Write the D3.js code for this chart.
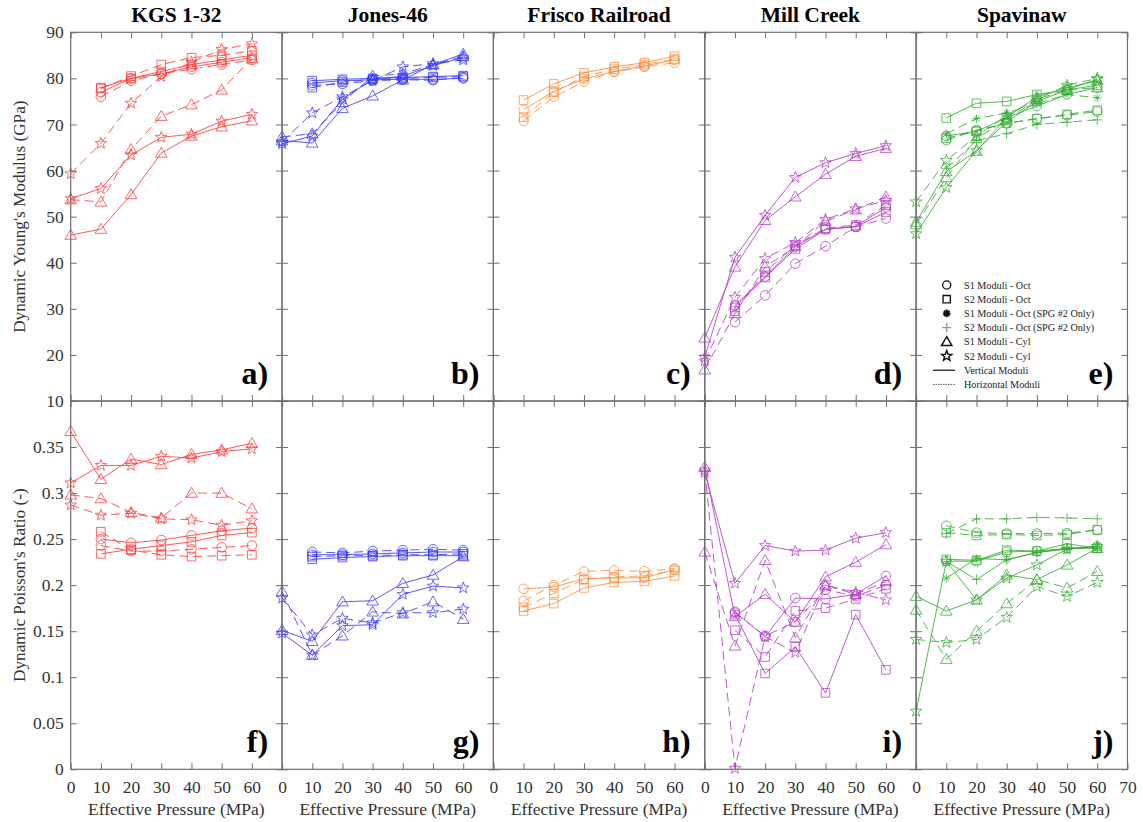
<!DOCTYPE html>
<html><head><meta charset="utf-8">
<script src="https://cdn.jsdelivr.net/npm/d3@7"></script>
<style>
body{margin:0;background:#fff}
svg text{font-family:"Liberation Serif","Times New Roman",serif;}
</style>
</head><body>
<svg id="chart" width="1143" height="822"></svg>
<script>
// ---------- data ----------
const pressure = [0, 10, 20, 30, 40, 50, 60];
const sites = ["KGS 1-32", "Jones-46", "Frisco Railroad", "Mill Creek", "Spavinaw"];
const lettersTop = ["a)", "b)", "c)", "d)", "e)"];
const lettersBottom = ["f)", "g)", "h)", "i)", "j)"];
const youngTicks = [10, 20, 30, 40, 50, 60, 70, 80, 90];
const poissonTicks = [0, 0.05, 0.1, 0.15, 0.2, 0.25, 0.3, 0.35];
const pressureTicks = [0, 10, 20, 30, 40, 50, 60, 70];
const legendLabels = ["S1 Moduli - Oct", "S2 Moduli - Oct", "S1 Moduli - Oct (SPG #2 Only)",
  "S2 Moduli - Oct (SPG #2 Only)", "S1 Moduli - Cyl", "S2 Moduli - Cyl", "Vertical Moduli", "Horizontal Moduli"];
const legendTypes = ["S1 Oct", "S2 Oct", "S1 SPG2", "S2 SPG2", "S1 Cyl", "S2 Cyl", "V", "H"];

// each row: [sample type, orientation (V = vertical, H = horizontal), values at pressure]
const kgsYoung = [
  ["S1 Oct", "V", [null, 77, 80, 81, 82.5, 83.5, 84.5]],
  ["S1 Oct", "H", [null, 76, 79.5, 81, 82, 83, 84]],
  ["S2 Oct", "V", [null, 78, 80, 81.5, 83, 84, 85]],
  ["S2 Oct", "H", [null, 77.8, 80.5, 83, 84.5, 85, 86]],
  ["S1 Cyl", "V", [46, 47.3, 54.8, 63.8, 67.5, 69.5, 70.8]],
  ["S1 Cyl", "H", [53.7, 53.2, 64.6, 71.8, 74.3, 77.5, 84.3]],
  ["S2 Cyl", "V", [53.9, 56.1, 63.4, 67.2, 67.9, 70.7, 72.2]],
  ["S2 Cyl", "H", [59.3, 65.9, 74.6, 80.4, 83.5, 86.3, 87.5]]
];
const jonesYoung = [
  ["S1 Oct", "V", [null, 79, 79.5, 79.7, 79.8, 79.8, 80]],
  ["S1 Oct", "H", [null, 78.5, 78.8, 79.5, 79.7, 79.6, 80.2]],
  ["S2 Oct", "V", [null, 79.5, 79.8, 80, 80.2, 80.4, 80.6]],
  ["S2 Oct", "H", [null, 78, 79.2, 79.8, 80, 80.2, 80.4]],
  ["S1 Cyl", "V", [66.5, 66, 73.5, 76.2, 79.7, 83, 85.3]],
  ["S1 Cyl", "H", [67.3, 68, 74.8, 80.5, 81, 83, 84.8]],
  ["S2 Cyl", "V", [65.8, 67.5, 75.5, 79.8, 80.5, 82.8, 84.5]],
  ["S2 Cyl", "H", [66.2, 72.5, 76, 79.5, 82.5, 83.2, 84]]
];
const friscoYoung = [
  ["S1 Oct", "V", [null, 73.2, 77.2, 79.9, 81.5, 82.7, 84]],
  ["S1 Oct", "H", [null, 70.8, 76, 79.3, 81.4, 82.5, 83.4]],
  ["S2 Oct", "V", [null, 75.3, 78.8, 81.2, 82.5, 83.4, 84.8]],
  ["S2 Oct", "H", [null, 71.6, 77, 80.4, 82, 83, 84.2]]
];
const millYoung = [
  ["S1 Oct", "V", [null, 30.7, 37, 43.5, 47.3, 47.9, 52]],
  ["S1 Oct", "H", [null, 27.1, 32.9, 39.8, 43.6, 47.8, 49.6]],
  ["S2 Oct", "V", [null, 30.3, 36.8, 43, 47.2, 47.8, 51]],
  ["S2 Oct", "H", [null, 29.5, 38, 43.8, 47.5, 48.2, 52.5]],
  ["S1 Cyl", "V", [23.7, 39.1, 49.2, 54.3, 59.2, 63.1, 64.8]],
  ["S1 Cyl", "H", [16.8, 29, 39.1, 43.5, 49, 51.5, 54.3]],
  ["S2 Cyl", "V", [19.5, 41.2, 50.3, 58.5, 61.7, 63.7, 65.4]],
  ["S2 Cyl", "H", [18.7, 32.5, 40.9, 44.4, 49.4, 51.7, 53.5]]
];
const spavYoung = [
  ["S1 Oct", "V", [null, 67.5, 68.5, 71.5, 74, 76.5, 78]],
  ["S1 Oct", "H", [null, 66.6, 68.8, 70.2, 71.3, 72, 72.8]],
  ["S2 Oct", "V", [null, 71.4, 74.6, 75, 76.5, 77.5, 78.5]],
  ["S2 Oct", "H", [null, 67, 68.5, 70.3, 71.2, 72.2, 73.1]],
  ["S1 SPG2", "H", [null, 68, 71.3, 72.5, 74.5, 76.5, 75.8]],
  ["S2 SPG2", "H", [null, 60.5, 66.5, 68, 70, 70.5, 71]],
  ["S1 Cyl", "V", [48.8, 59.8, 64.2, 71.5, 76, 78, 79.5]],
  ["S1 Cyl", "H", [48.3, 58.5, 67, 71, 75.5, 77.5, 78]],
  ["S2 Cyl", "V", [46.3, 56.3, 64.4, 70.5, 75, 77.5, 79.8]],
  ["S2 Cyl", "H", [53.2, 62.2, 67.5, 72, 75.5, 78.5, 80]]
];

const kgsPoisson = [
  ["S1 Oct", "V", [null, 0.250, 0.246, 0.249, 0.254, 0.259, 0.262]],
  ["S1 Oct", "H", [null, 0.243, 0.237, 0.237, 0.239, 0.241, 0.243]],
  ["S2 Oct", "V", [null, 0.234, 0.239, 0.243, 0.247, 0.254, 0.257]],
  ["S2 Oct", "H", [null, 0.258, 0.238, 0.233, 0.231, 0.232, 0.233]],
  ["S1 Cyl", "V", [0.367, 0.315, 0.337, 0.331, 0.342, 0.347, 0.354]],
  ["S1 Cyl", "H", [0.298, 0.294, 0.279, 0.273, 0.300, 0.300, 0.283]],
  ["S2 Cyl", "V", [0.311, 0.330, 0.330, 0.340, 0.338, 0.345, 0.348]],
  ["S2 Cyl", "H", [0.287, 0.276, 0.278, 0.272, 0.271, 0.265, 0.270]]
];
const jonesPoisson = [
  ["S1 Oct", "V", [null, 0.233, 0.233, 0.234, 0.235, 0.236, 0.236]],
  ["S1 Oct", "H", [null, 0.236, 0.235, 0.237, 0.238, 0.239, 0.238]],
  ["S2 Oct", "V", [null, 0.228, 0.230, 0.231, 0.232, 0.232, 0.232]],
  ["S2 Oct", "H", [null, 0.231, 0.232, 0.232, 0.233, 0.233, 0.234]],
  ["S1 Cyl", "V", [0.151, 0.139, 0.182, 0.183, 0.202, 0.211, 0.231]],
  ["S1 Cyl", "H", [0.193, 0.124, 0.145, 0.171, 0.169, 0.182, 0.163]],
  ["S2 Cyl", "V", [0.148, 0.124, 0.156, 0.157, 0.190, 0.199, 0.197]],
  ["S2 Cyl", "H", [0.186, 0.146, 0.164, 0.159, 0.170, 0.170, 0.174]]
];
const friscoPoisson = [
  ["S1 Oct", "V", [null, 0.196, 0.198, 0.207, 0.208, 0.208, 0.217]],
  ["S1 Oct", "H", [null, 0.183, 0.200, 0.215, 0.216, 0.215, 0.218]],
  ["S2 Oct", "V", [null, 0.172, 0.180, 0.197, 0.203, 0.204, 0.210]],
  ["S2 Oct", "H", [null, 0.176, 0.191, 0.206, 0.209, 0.210, 0.216]]
];
const millPoisson = [
  ["S1 Oct", "V", [null, 0.171, 0.144, 0.186, 0.185, 0.190, 0.210]],
  ["S1 Oct", "H", [null, 0.170, 0.145, 0.160, 0.195, 0.188, 0.200]],
  ["S2 Oct", "V", [null, 0.168, 0.104, 0.133, 0.083, 0.168, 0.108]],
  ["S2 Oct", "H", [null, 0.151, 0.122, 0.172, 0.175, 0.185, 0.196]],
  ["S1 Cyl", "V", [0.328, 0.166, 0.190, 0.160, 0.209, 0.225, 0.244]],
  ["S1 Cyl", "H", [0.236, 0.134, 0.227, 0.143, 0.200, 0.190, 0.204]],
  ["S2 Cyl", "V", [0.3225, 0.202, 0.243, 0.237, 0.238, 0.251, 0.257]],
  ["S2 Cyl", "H", [0.325, 0.001, 0.144, 0.127, 0.200, 0.192, 0.184]]
];
const spavPoisson = [
  ["S1 Oct", "V", [null, 0.226, 0.226, 0.236, 0.237, 0.240, 0.242]],
  ["S1 Oct", "H", [null, 0.2645, 0.257, 0.256, 0.256, 0.2565, 0.260]],
  ["S2 Oct", "V", [null, 0.228, 0.227, 0.238, 0.237, 0.245, 0.240]],
  ["S2 Oct", "H", [null, 0.257, 0.254, 0.255, 0.254, 0.255, 0.260]],
  ["S1 SPG2", "V", [null, 0.2076, 0.229, 0.2275, 0.2355, 0.239, 0.242]],
  ["S2 SPG2", "H", [null, 0.256, 0.272, 0.272, 0.2735, 0.273, 0.272]],
  ["S2 SPG2", "V", [null, 0.2257, 0.206, 0.2276, 0.2355, 0.240, 0.240]],
  ["S1 Cyl", "V", [0.188, 0.172, 0.184, 0.211, 0.206, 0.222, 0.240]],
  ["S1 Cyl", "H", [0.173, 0.1196, 0.150, 0.180, 0.206, 0.197, 0.215]],
  ["S2 Cyl", "V", [0.063, 0.2257, 0.184, 0.2076, 0.222, 0.239, 0.242]],
  ["S2 Cyl", "H", [0.141, 0.1377, 0.141, 0.165, 0.1985, 0.1877, 0.203]]
];

const youngData = [kgsYoung, jonesYoung, friscoYoung, millYoung, spavYoung];
const poissonData = [kgsPoisson, jonesPoisson, friscoPoisson, millPoisson, spavPoisson];

// ---------- styles ----------
const siteColors = ["#ff3a3a", "#3a3aff", "#ff8a3a", "#b23cc4", "#34ac34"];
const axisColor = "#6e6e6e";

// marker path generators
function markerPath(type) {
  switch (type) {
    case "S1 Oct": { const r = 4.8; return `M${r},0A${r},${r} 0 1,1 ${-r},0A${r},${r} 0 1,1 ${r},0Z`; }
    case "S2 Oct": { const s = 4.3; return `M${-s},${-s}H${s}V${s}H${-s}Z`; }
    case "S1 Cyl": return "M0,-5.8L5.8,4.2L-5.8,4.2Z";
    case "S2 Cyl": {
      const R = 6, r = 2.5; let p = "";
      for (let i = 0; i < 10; i++) {
        const a = -Math.PI / 2 + i * Math.PI / 5, rr = i % 2 ? r : R;
        p += (i ? "L" : "M") + (rr * Math.cos(a)).toFixed(2) + "," + (rr * Math.sin(a)).toFixed(2);
      }
      return p + "Z";
    }
    case "S2 SPG2": return "M-5,0H5M0,-5V5";
    case "S1 SPG2": {
      const r = 4.2, d = r * Math.SQRT1_2;
      return `M${-r},0H${r}M0,${-r}V${r}M${-d},${-d}L${d},${d}M${-d},${d}L${d},${-d}`;
    }
  }
}
const dashFor = o => o === "H" ? "9,5" : null;

// ---------- layout ----------
const svg = d3.select("#chart");
const left0 = 70.7, pw = 211.35;
const topTop = 32.3, mid = 401, botBottom = 769.3;

const yTop = d3.scaleLinear().domain([10, 90]).range([mid, topTop]);
const yBot = d3.scaleLinear().domain([0, 0.4]).range([botBottom, mid]);

function drawPanel(i, y, data, isBottom) {
  const x = d3.scaleLinear().domain([0, 70]).range([left0 + i * pw, left0 + (i + 1) * pw]);
  const g = svg.append("g");
  const [y0, y1] = y.range();
  const col = siteColors[i];

  // series
  const line = d3.line().defined(d => d[1] != null).x(d => x(d[0])).y(d => y(d[1]));
  data.forEach(([type, orient, vals]) => {
    const pts = pressure.map((p, k) => [p, vals[k]]);
    g.append("path").datum(pts).attr("d", line)
      .attr("fill", "none").attr("stroke", col).attr("stroke-width", 1)
      .attr("stroke-opacity", 0.85)
      .attr("stroke-dasharray", dashFor(orient));
    g.selectAll(null).data(pts.filter(d => d[1] != null)).enter().append("path")
      .attr("transform", d => `translate(${x(d[0])},${y(d[1])})`)
      .attr("d", markerPath(type))
      .attr("fill", "none").attr("stroke", col).attr("stroke-width", 0.9)
      .attr("stroke-opacity", 0.85);
  });

  // axes (ticks inward)
  const tickFmt = d => String(+d.toFixed(2));
  const xt = isBottom ? (i === 4 ? pressureTicks : pressureTicks.slice(0, 7)) : [];
  const axB = g.append("g").attr("transform", `translate(0,${y0})`)
    .call(d3.axisBottom(x).tickValues(pressureTicks).tickSize(-6).tickPadding(11)
      .tickFormat(d => xt.includes(d) ? tickFmt(d) : ""));
  const axT = g.append("g").attr("transform", `translate(0,${y1})`)
    .call(d3.axisTop(x).tickValues(pressureTicks).tickSize(-6).tickFormat(""));
  const yt = isBottom ? poissonTicks : youngTicks;
  const yv = isBottom ? poissonTicks.concat([0.4]) : youngTicks;
  const axL = g.append("g").attr("transform", `translate(${x(0)},0)`)
    .call(d3.axisLeft(y).tickValues(yv).tickSize(-6).tickPadding(7)
      .tickFormat(d => (i === 0 && yt.includes(d)) ? tickFmt(d) : ""));
  const axR = g.append("g").attr("transform", `translate(${x(70)},0)`)
    .call(d3.axisRight(y).tickValues(yv).tickSize(-6).tickFormat(""));
  [axB, axT, axL, axR].forEach(a => {
    a.attr("font-family", null);
    a.select(".domain").remove();
    a.selectAll(".tick line").attr("stroke", axisColor).attr("stroke-width", 1);
    a.selectAll(".tick text").attr("font-size", 17.5).attr("fill", "#333");
  });
  g.append("rect").attr("x", x(0)).attr("y", y1).attr("width", x(70) - x(0)).attr("height", y0 - y1)
    .attr("fill", "none").attr("stroke", axisColor).attr("stroke-width", 1.2);

  // panel letter
  g.append("text").attr("x", x(70) - 14).attr("y", y0 - 17)
    .attr("text-anchor", "end").attr("font-weight", "bold")
    .attr("font-size", 32).attr("fill", "#000")
    .text(isBottom ? lettersBottom[i] : lettersTop[i]);

  if (!isBottom) {
    g.append("text").attr("x", x(35)).attr("y", 22).attr("text-anchor", "middle")
      .attr("font-weight", "bold").attr("font-size", 21.5).attr("fill", "#000")
      .text(sites[i]);
  } else {
    g.append("text").attr("x", x(35)).attr("y", 815).attr("text-anchor", "middle")
      .attr("font-size", 17.5).attr("fill", "#333")
      .text("Effective Pressure (MPa)");
  }
}

for (let i = 0; i < 5; i++) {
  drawPanel(i, yTop, youngData[i], false);
  drawPanel(i, yBot, poissonData[i], true);
}

// y axis titles
svg.append("text").attr("transform", `translate(25,${(topTop + mid) / 2}) rotate(-90)`)
  .attr("text-anchor", "middle").attr("font-size", 17.2).attr("fill", "#333")
  .text("Dynamic Young's Modulus (GPa)");
svg.append("text").attr("transform", `translate(25,${(mid + botBottom) / 2}) rotate(-90)`)
  .attr("text-anchor", "middle").attr("font-size", 17.2).attr("fill", "#333")
  .text("Dynamic Poisson's Ratio (-)");

// legend (panel e)
const lg = svg.append("g");
legendLabels.forEach((lab, k) => {
  const cy = 285 + k * 14.2;
  const t = legendTypes[k];
  if (t === "V" || t === "H") {
    lg.append("line").attr("x1", 933).attr("x2", 955).attr("y1", cy).attr("y2", cy)
      .attr("stroke", t === "V" ? "#222" : "#555").attr("stroke-width", t === "V" ? 1.3 : 1)
      .attr("stroke-dasharray", t === "H" ? "1.5,1" : null);
  } else {
    const sc = (t === "S1 Oct" || t === "S2 Oct") ? 0.85 : 0.9;
    lg.append("path").attr("transform", `translate(946.7,${cy}) scale(${sc})`)
      .attr("d", markerPath(t)).attr("fill", "none")
      .attr("stroke", t === "S2 SPG2" ? "#999" : "#111")
      .attr("stroke-width", t === "S1 SPG2" ? 2.2 : 1.6);
  }
  lg.append("text").attr("x", 964).attr("y", cy + 3.5)
    .attr("font-size", 10.2).attr("fill", "#222").text(lab);
});
</script>
</body></html>
